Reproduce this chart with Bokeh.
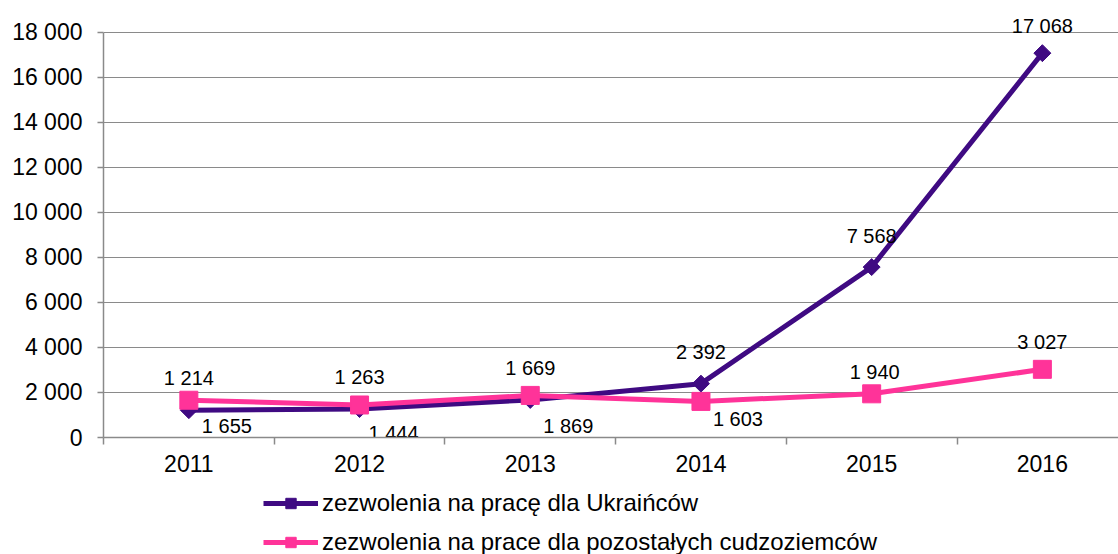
import numpy as np
from bokeh.plotting import figure
from bokeh.layouts import column
from bokeh.models import Range1d, FixedTicker, Legend, LegendItem, ColumnDataSource
from bokeh.embed import file_html
from bokeh.resources import INLINE
from bokeh.core.properties import value

# ---- data ----
years = ["2011", "2012", "2013", "2014", "2015", "2016"]
ukraine = [1214, 1263, 1669, 2392, 7568, 17068]
others = [1655, 1444, 1869, 1603, 1940, 3027]
series_names = ["zezwolenia na pracę dla Ukraińców",
                "zezwolenia na prace dla pozostałych cudzoziemców"]
y_ticks = list(range(0, 18001, 2000))

# data-label placement (screen pixels, positive = down)
ukr_dx = [0, 0, 0, 0, 0, 0]
ukr_dy = [-32, -32, -32, -32, -31, -27]
oth_dx = [38, 34, 38, 37, 3, 0]
oth_dy = [26, 28, 31, 18, -22, -27]

FONT = "Liberation Sans"
PURPLE = "#3F0A82"
PINK = "#FF3399"
GRID = "#8A8A8A"

def fmt(v):
    return f"{v:,}".replace(",", " ")

xc = np.arange(len(years)) + 0.5

MAIN_H = 483
p = figure(width=1118, height=MAIN_H, output_backend="svg", toolbar_location=None,
           x_range=Range1d(0, 5.946), y_range=Range1d(0, 19407),
           min_border_left=103, min_border_right=0, min_border_top=0,
           min_border_bottom=MAIN_H - 437)
p.outline_line_color = None
p.background_fill_color = "white"
p.border_fill_color = "white"

# axes
p.xaxis.ticker = FixedTicker(ticks=list(xc), minor_ticks=list(range(len(years) + 1)))
p.xaxis.major_label_overrides = {float(x): y for x, y in zip(xc, years)}
p.xaxis.major_tick_out = 0
p.xaxis.major_tick_in = 0
p.xaxis.minor_tick_out = 7
p.xaxis.minor_tick_in = 0
p.xaxis.minor_tick_line_color = GRID
p.xaxis.minor_tick_line_width = 1.5
p.xaxis.major_label_standoff = 10

p.yaxis.ticker = FixedTicker(ticks=y_ticks)
p.yaxis.major_label_overrides = {t: fmt(t) for t in y_ticks}
p.yaxis.bounds = (0, 18000)
p.yaxis.major_tick_out = 6
p.yaxis.major_tick_in = 0
p.yaxis.minor_tick_line_color = None
p.yaxis.major_tick_line_color = GRID
p.yaxis.major_tick_line_width = 1.5
p.yaxis.major_label_standoff = 15

for ax in (p.xaxis, p.yaxis):
    ax.axis_line_color = GRID
    ax.axis_line_width = 1.5
    ax.major_label_text_font = FONT
    ax.major_label_text_font_size = "23px"
    ax.major_label_text_color = "black"

p.xgrid.grid_line_color = None
p.ygrid.grid_line_color = GRID
p.ygrid.grid_line_width = 1

# series
src_u = ColumnDataSource(dict(x=xc, y=ukraine, t=[fmt(v) for v in ukraine], dx=ukr_dx, dy=ukr_dy))
src_o = ColumnDataSource(dict(x=xc, y=others, t=[fmt(v) for v in others], dx=oth_dx, dy=oth_dy))

line_u = dict(line_color=PURPLE, line_width=5)
mark_u = dict(marker="square", angle=np.pi / 4, size=12, fill_color=PURPLE, line_color=PURPLE)
line_o = dict(line_color=PINK, line_width=5)
mark_o = dict(marker="square", size=18, fill_color=PINK, line_color=PINK)

p.line("x", "y", source=src_u, **line_u)
p.scatter("x", "y", source=src_u, **mark_u)
p.line("x", "y", source=src_o, **line_o)
p.scatter("x", "y", source=src_o, **mark_o)

for src in (src_u, src_o):
    p.text("x", "y", text="t", source=src, x_offset="dx", y_offset="dy",
           text_align="center", text_baseline="middle",
           text_font=value(FONT), text_font_size="20px", text_color="black")

# ---- legend strip below the chart ----
LEG_H = 554 - MAIN_H
pl = figure(width=1118, height=LEG_H, output_backend="svg", toolbar_location=None,
            x_range=Range1d(0, 1), y_range=Range1d(0, 1),
            x_axis_type=None, y_axis_type=None,
            min_border_left=0, min_border_right=0, min_border_top=0, min_border_bottom=0)
pl.outline_line_color = None
pl.xgrid.visible = False
pl.ygrid.visible = False
# legend-only renderers: a single point placed outside the visible range
dummy = ColumnDataSource(dict(x=[-5.0], y=[-5.0]))
glu = pl.line("x", "y", source=dummy, **line_u)
gmu = pl.scatter("x", "y", source=dummy, **mark_u)
glo = pl.line("x", "y", source=dummy, **line_o)
gmo = pl.scatter("x", "y", source=dummy, **mark_o)

legend = Legend(items=[LegendItem(label=series_names[0], renderers=[glu, gmu]),
                       LegendItem(label=series_names[1], renderers=[glo, gmo])],
                location=(160, -2), orientation="vertical",
                glyph_width=55, glyph_height=26, label_height=26, spacing=11,
                label_standoff=4, padding=0, margin=0,
                label_text_font=FONT, label_text_font_size="24px",
                label_text_color="black", border_line_color=None,
                background_fill_alpha=0)
pl.add_layout(legend, "center")

open("out.html", "w").write(file_html(column(p, pl, spacing=0), INLINE))
